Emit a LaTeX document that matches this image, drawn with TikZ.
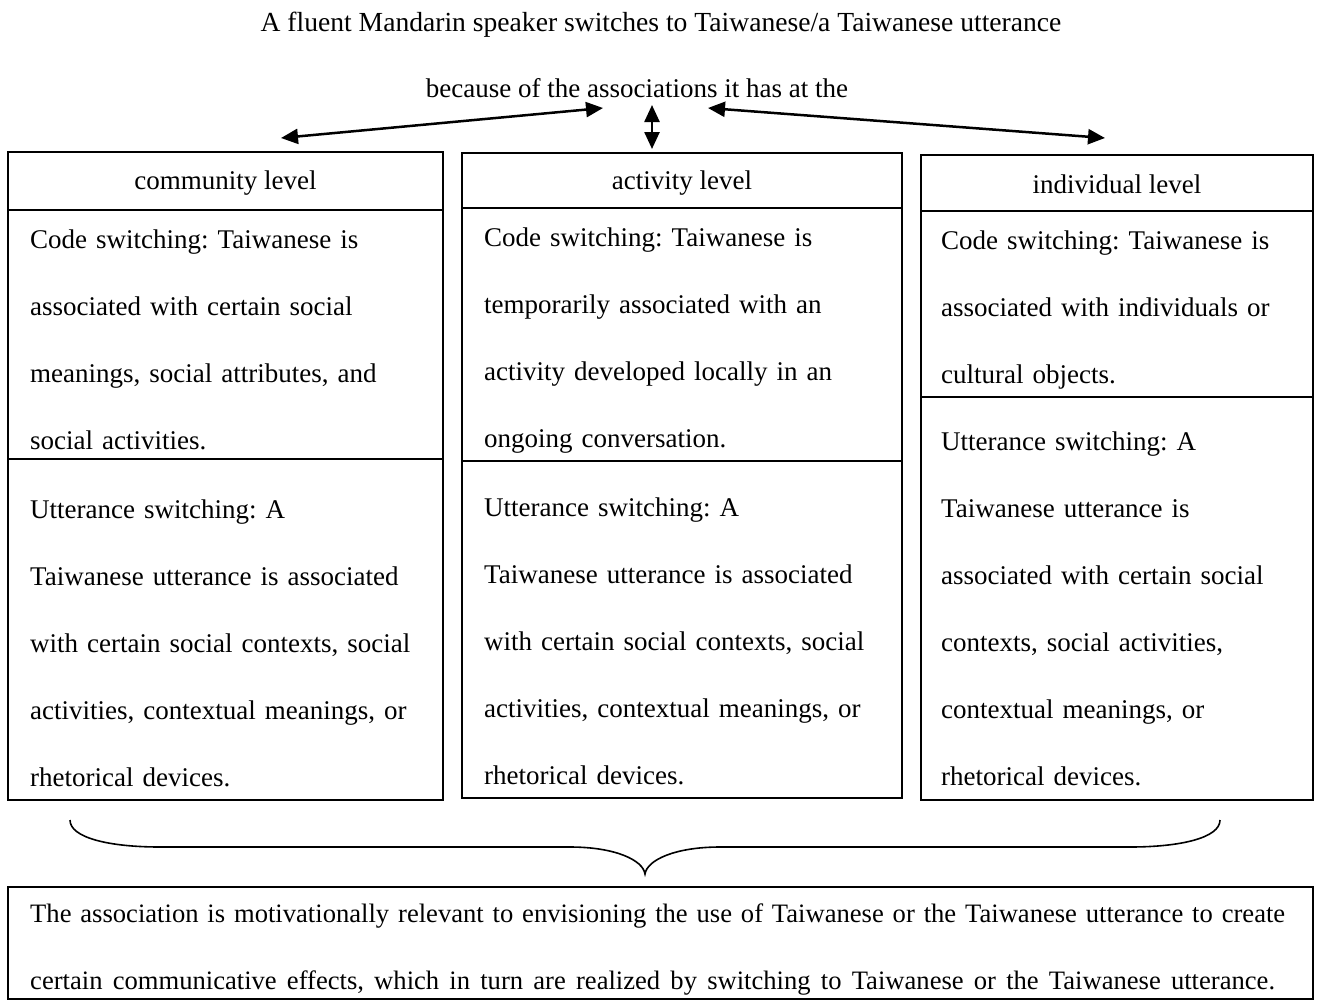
\documentclass[tikz,border=0pt]{standalone}
\usepackage{fontspec}
\setmainfont{Liberation Serif}
\usetikzlibrary{arrows.meta}
\frenchspacing
\begin{document}
\begin{tikzpicture}[x=1pt,y=-1pt,
  cell/.style={draw, line width=2pt, inner sep=0pt, outer sep=0pt},
  body/.style={anchor=base west, inner sep=0pt, text width=430pt, align=left,
    font=\fontsize{27}{67}\selectfont},
  headtxt/.style={anchor=base, inner sep=0pt, font=\fontsize{27}{32}\selectfont},
  titletxt/.style={anchor=base, inner sep=0pt, font=\fontsize{27}{32}\selectfont},
  link/.style={line width=2.5pt,
    {Triangle[length=17pt,width=15pt]}-{Triangle[length=17pt,width=15pt]}},
  bracestyle/.style={line width=1.6pt},
]
\useasboundingbox (0,0) rectangle (1321,1004);

% heading lines
\node[titletxt, font=\fontsize{27.6}{32}\selectfont] (title) at (661,31) {A fluent Mandarin speaker switches to Taiwanese/a Taiwanese utterance};
\node[titletxt] (because) at (637,97) {because of the associations it has at the};

% community column
\node[cell, minimum width=435pt, minimum height=58pt]  (lhead) at (225.5,181)   {};
\node[cell, minimum width=435pt, minimum height=249pt] (lcode) at (225.5,334.5) {};
\node[cell, minimum width=435pt, minimum height=341pt] (lutt)  at (225.5,629.5) {};
\node[headtxt] (lheadt) at (225.5,189) {community level};
\node[body] (lcodet) at (30,248) {Code switching: Taiwanese is\\associated with certain social\\meanings, social attributes, and\\social activities.};
\node[body] (luttt) at (30,518) {Utterance switching: A\\Taiwanese utterance is associated\\with certain social contexts, social\\activities, contextual meanings, or\\rhetorical devices.};

% activity column
\node[cell, minimum width=440pt, minimum height=55pt]  (mhead) at (682,180.5) {};
\node[cell, minimum width=440pt, minimum height=253pt] (mcode) at (682,334.5) {};
\node[cell, minimum width=440pt, minimum height=337pt] (mutt)  at (682,629.5) {};
\node[headtxt] (mheadt) at (682,189) {activity level};
\node[body] (mcodet) at (484,246) {Code switching: Taiwanese is\\temporarily associated with an\\activity developed locally in an\\ongoing conversation.};
\node[body] (muttt) at (484,516) {Utterance switching: A\\Taiwanese utterance is associated\\with certain social contexts, social\\activities, contextual meanings, or\\rhetorical devices.};

% individual column
\node[cell, minimum width=392pt, minimum height=56pt]  (rhead) at (1117,183)   {};
\node[cell, minimum width=392pt, minimum height=186pt] (rcode) at (1117,304)   {};
\node[cell, minimum width=392pt, minimum height=403pt] (rutt)  at (1117,598.5) {};
\node[headtxt] (rheadt) at (1117,193) {individual level};
\node[body] (rcodet) at (941,249) {Code switching: Taiwanese is\\associated with individuals or\\cultural objects.};
\node[body] (ruttt) at (941,450) {Utterance switching: A\\Taiwanese utterance is\\associated with certain social\\contexts, social activities,\\contextual meanings, or\\rhetorical devices.};

% arrows from the linking phrase to the three levels
\coordinate (aL0) at (603,108);
\coordinate (aL1) at (281,138);
\coordinate (aM0) at (652,105);
\coordinate (aM1) at (652,149);
\coordinate (aR0) at (708,108);
\coordinate (aR1) at (1105,138);
\draw[link] (aL0) -- (aL1);
\draw[link] (aM0) -- (aM1);
\draw[link] (aR0) -- (aR1);

% brace gathering the three columns
\coordinate (brL) at (70,820);
\coordinate (brTip) at (645,874);
\coordinate (brR) at (1220,820);
\draw[bracestyle] (brL) .. controls (70,838) and (110,847) .. (160,847) -- (570,847)
  .. controls (615,847) and (643,860) .. (brTip)
  .. controls (647,860) and (675,847) .. (720,847) -- (1130,847)
  .. controls (1180,847) and (1220,838) .. (brR);

% conclusion box
\node[cell, minimum width=1305pt, minimum height=112pt] (concl) at (660.5,943) {};
\node[body, text width=1290pt, font=\fontsize{26.6}{67}\selectfont] (conclt) at (30,922) {The association is motivationally relevant to envisioning the use of Taiwanese or the Taiwanese utterance to create\\{\spaceskip=10.2pt certain communicative effects, which in turn are realized by switching to Taiwanese or the Taiwanese utterance.}};
\end{tikzpicture}
\end{document}
